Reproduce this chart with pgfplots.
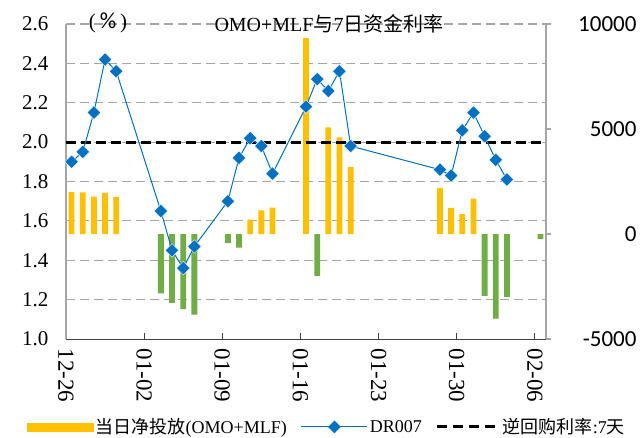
\documentclass[border=0pt]{standalone}
\usepackage{fontspec}
\setmainfont{Liberation Serif}
\newfontfamily\cjk{Noto Sans CJK SC}
\newfontfamily\carlito{Carlito}
\usepackage{pgfplots}
\pgfplotsset{compat=1.18}
\definecolor{barY}{HTML}{FFC000}
\definecolor{barG}{HTML}{70AD47}
\definecolor{lineB}{HTML}{0070C0}
\definecolor{gridG}{HTML}{A6A6A6}

\begin{document}
\begin{tikzpicture}
\path[use as bounding box] (0,0) rectangle (644pt,437pt);

% net injection (OMO+MLF), right axis
\begin{axis}[
    at={(66pt,98pt)}, anchor=south west,
    scale only axis, width=480pt, height=315pt,
    xmin=0, xmax=43, ymin=-5000, ymax=10000,
    axis x line=none, axis y line*=right,
    axis line style={-, gridG, line width=1.2pt},
    ytick={-5000,0,5000,10000},
    tick align=outside, major tick length=5pt,
    ytick style={gridG, line width=1.2pt},
    yticklabel style={font=\carlito\fontsize{23}{23}\selectfont, anchor=east, xshift=89pt},
    /pgf/number format/assume math mode=true,
    scaled y ticks=false,
    /pgf/number format/set thousands separator={},
    extra y ticks={-3125,-1250,625,2500,4375,6250,8125,10000},
    extra y tick labels={},
    extra y tick style={grid=major, tick style={draw=none}},
    major grid style={gridG, dash pattern=on 9pt off 5pt, line width=1.2pt},
]
\addplot[ybar, bar width=5.8pt, bar shift=0pt, fill=barY, draw=none] coordinates {
    (0.5,2000) (1.5,1980) (2.5,1780) (3.5,1960) (4.5,1770)
    (16.5,690) (17.5,1120) (18.5,1260)
    (21.5,9330) (23.5,5080) (24.5,4600) (25.5,3200)
    (33.5,2180) (34.5,1250) (35.5,950) (36.5,1680)
};
\addplot[ybar, bar width=5.8pt, bar shift=0pt, fill=barG, draw=none] coordinates {
    (8.5,-2830) (9.5,-3280) (10.5,-3580) (11.5,-3840)
    (14.5,-420) (15.5,-650) (22.5,-1990)
    (37.5,-2950) (38.5,-4030) (39.5,-2990) (42.5,-240)
};
\end{axis}

% DR007 and 7-day reverse repo rate, left axis
\begin{axis}[
    at={(66pt,98pt)}, anchor=south west,
    scale only axis, width=480pt, height=315pt,
    xmin=0, xmax=43, ymin=1, ymax=2.6,
    axis x line*=bottom, axis y line*=left,
    axis line style={-, gridG, line width=1.2pt},
    x axis line style={black!75, line width=1pt},
    xtick={0,7,14,21,28,35,42},
    xticklabels={12-26,01-02,01-09,01-16,01-23,01-30,02-06},
    ytick={1,1.2,1.4,1.6,1.8,2,2.2,2.4,2.6},
    yticklabel style={/pgf/number format/fixed, /pgf/number format/fixed zerofill,
        /pgf/number format/precision=1, xshift=-14pt},
    /pgf/number format/assume math mode=true,
    tick align=inside, major tick length=6pt,
    xtick style={black!75, line width=1pt},
    ytick style={draw=none},
    ticklabel style={font=\fontsize{21}{21}\selectfont},
    xticklabel style={rotate=-90, anchor=west, font=\fontsize{23}{23}\selectfont, xshift=6pt},
    legend style={at={(0.544,-0.279)}, anchor=center, draw=none, fill=none,
        legend columns=3, font=\fontsize{18}{18}\selectfont,
        /tikz/every even column/.style={column sep=12pt}},
    clip=false,
]
\addlegendimage{legend image code/.code={\fill[barY] (0pt,-4pt) rectangle (66pt,4pt);}}
\addlegendentry{{\cjk 当日净投放}(OMO+MLF)}
\addlegendimage{legend image code/.code={
    \draw[lineB, line width=1pt] (0pt,0pt) -- (66pt,0pt);
    \fill[lineB] (33pt,6pt) -- (39pt,0pt) -- (33pt,-6pt) -- (27pt,0pt) -- cycle;}}
\addlegendentry{DR007}
\addlegendimage{legend image code/.code={
    \draw[black, line width=3pt, dash pattern=on 10pt off 6pt] (0pt,0pt) -- (62pt,0pt);}}
\addlegendentry{{\cjk 逆回购利率}:7{\cjk 天}}

\addplot[forget plot, black, line width=3pt, dash pattern=on 10pt off 5pt] coordinates {(0,2) (43,2)};
\addplot[forget plot, lineB, line width=1pt, mark=square*, mark size=4.8pt,
    mark options={fill=lineB, draw=white, line width=0.4pt, rotate=45}] coordinates {
    (0.5,1.90) (1.5,1.95) (2.5,2.15) (3.5,2.42) (4.5,2.36)
    (8.5,1.65) (9.5,1.45) (10.5,1.36) (11.5,1.47)
    (14.5,1.70) (15.5,1.92) (16.5,2.02) (17.5,1.98) (18.5,1.84)
    (21.5,2.18) (22.5,2.32) (23.5,2.26) (24.5,2.36) (25.5,1.98)
    (33.5,1.86) (34.5,1.83) (35.5,2.06) (36.5,2.15) (37.5,2.03) (38.5,1.91) (39.5,1.81)
};
\node[font=\fontsize{20}{20}\selectfont] at (rel axis cs:0.548,1.0) {OMO+MLF{\cjk 与}7{\cjk 日资金利率}};
\node[font=\fontsize{21}{21}\selectfont] at (rel axis cs:0.0875,1.005) {(\hspace{4pt}{\carlito\fontsize{23}{23}\selectfont\%}\hspace{4pt})};
\end{axis}
\end{tikzpicture}
\end{document}
